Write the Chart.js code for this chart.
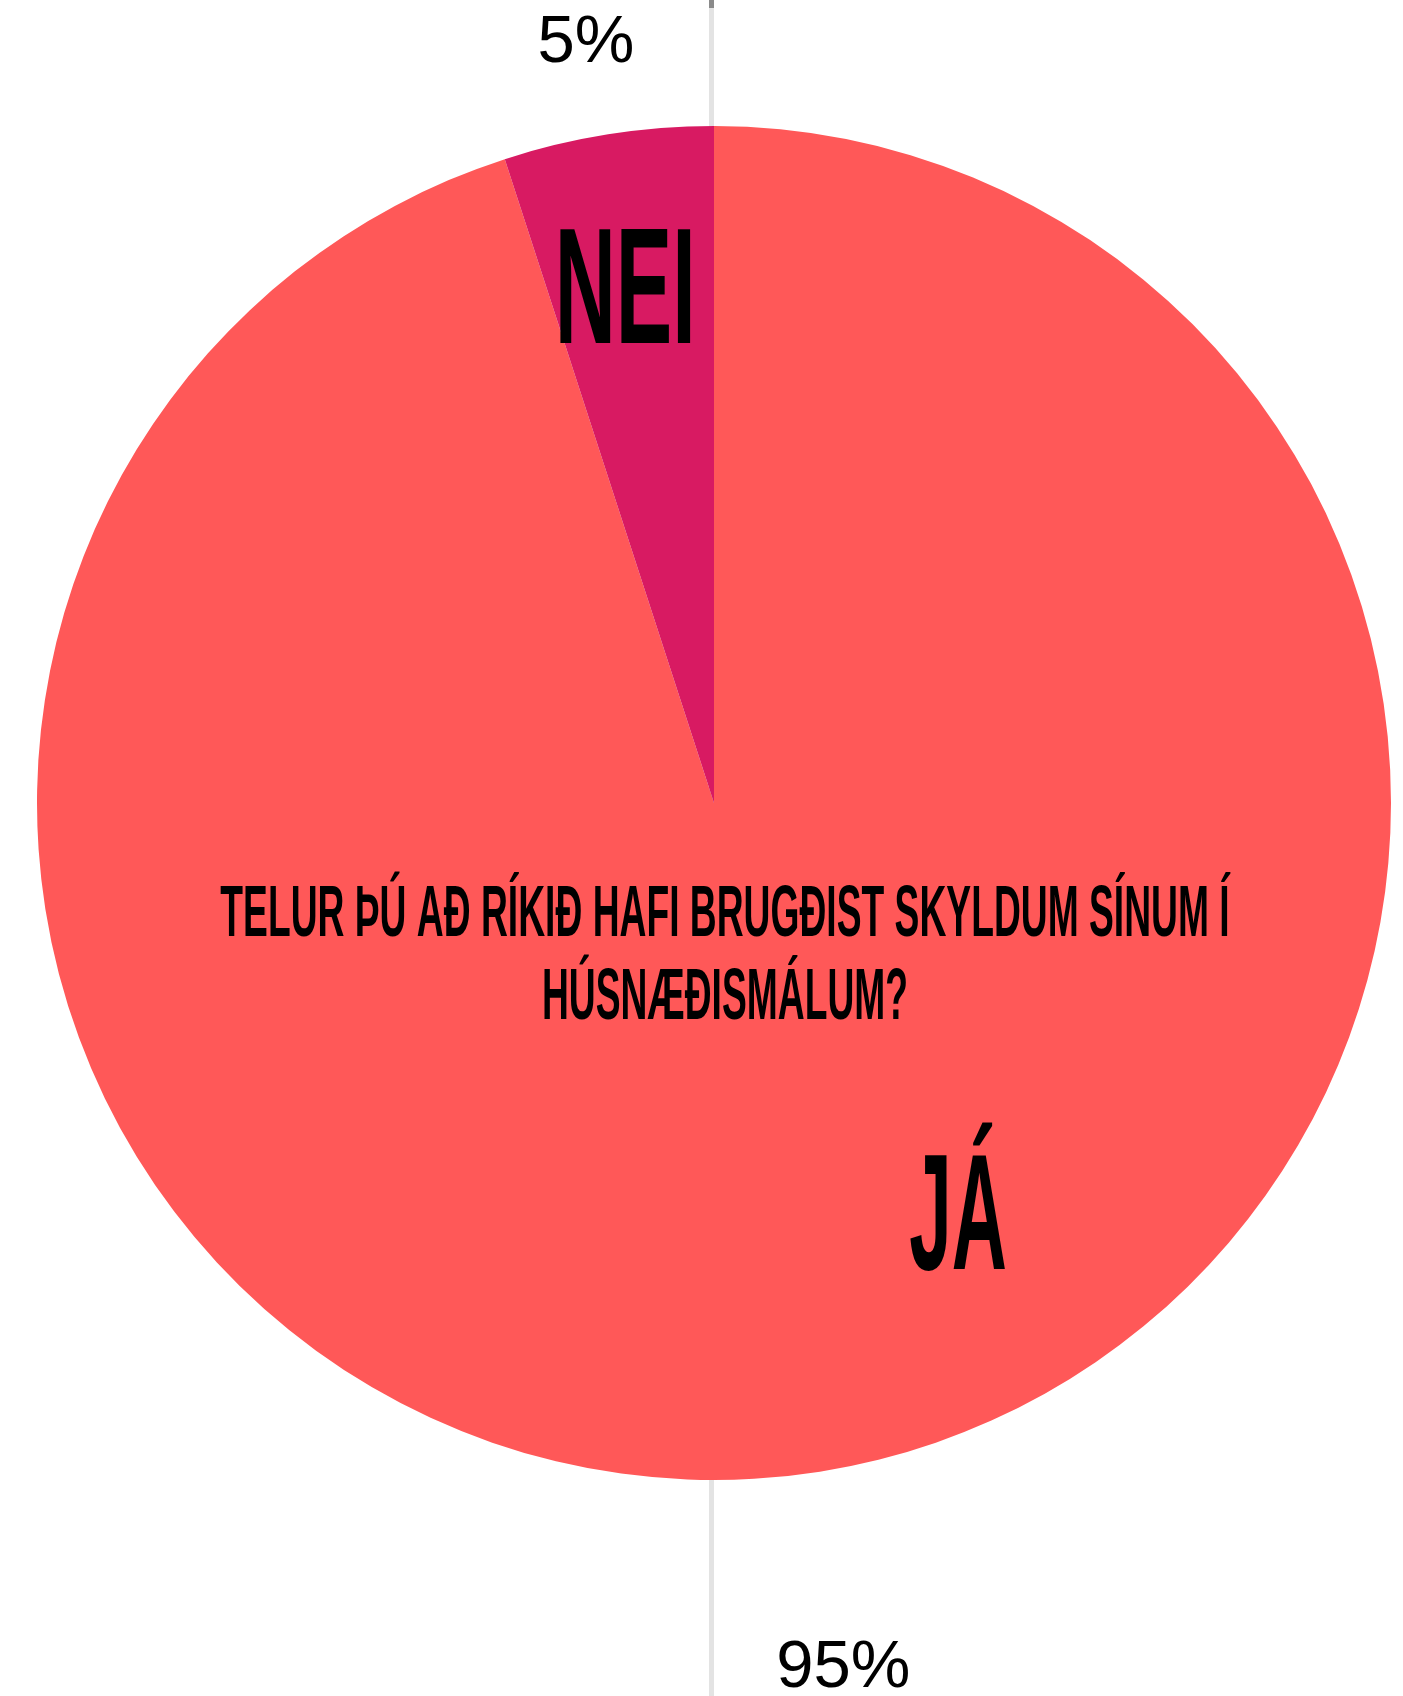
<!DOCTYPE html>
<html>
<head>
<meta charset="utf-8">
<script src="https://cdn.jsdelivr.net/npm/chart.js@4.4.1/dist/chart.umd.min.js"></script>
<style>
  html, body { margin: 0; padding: 0; background: #fff; }
  #wrap { width: 1403px; height: 1696px; position: relative; }
</style>
</head>
<body>
<div id="wrap"><canvas id="pie" width="1403" height="1696"></canvas></div>
<script>
// answers, in drawing order (clockwise from 12 o'clock)
const answers = ['JÁ', 'NEI'];
const shares = [95, 5];
const sliceColors = ['#FF5858', '#D81A62'];
const question = ['TELUR ÞÚ AÐ RÍKIÐ HAFI BRUGÐIST SKYLDUM SÍNUM Í', 'HÚSNÆÐISMÁLUM?'];

// where the big answer words sit: degrees clockwise from top, fraction of radius, squash
const wordSpots = [{ deg: 149, r: 0.70, sx: 0.46 }, { deg: 350.3, r: 0.778, sx: 0.51 }];
// how far out the percentage goes, as fraction of radius
const pctDistance = [1.286, 1.144];

const CAP = 0.716;

function squashed(ctx, text, x, capMid, size, sx) {
    ctx.save();
    ctx.translate(x, capMid + size * CAP / 2);
    ctx.scale(sx, 1);
    ctx.font = 'bold ' + size + 'px "Liberation Sans", Arial, sans-serif';
    ctx.textAlign = 'center';
    ctx.textBaseline = 'alphabetic';
    ctx.fillStyle = '#000';
    ctx.fillText(text, 0, 0);
    ctx.restore();
}

const backLine = {
    id: 'backLine',
    beforeDatasetsDraw(chart) {
        const arc = chart.getDatasetMeta(0).data[0];
        const ctx = chart.ctx;
        ctx.save();
        ctx.fillStyle = '#e3e3e3';
        ctx.fillRect(arc.x - 5, 0, 5, chart.height);
        ctx.fillStyle = '#8a8a8a';
        ctx.fillRect(arc.x - 5, 0, 5, 8);
        ctx.restore();
    }
};

const pieText = {
    id: 'pieText',
    afterDatasetsDraw(chart) {
        const ctx = chart.ctx;
        const arcs = chart.getDatasetMeta(0).data;
        const cx = arcs[0].x, cy = arcs[0].y, R = arcs[0].outerRadius;

        // percentages outside the pie, along each slice's middle
        ctx.save();
        ctx.font = '67px "Liberation Sans", Arial, sans-serif';
        ctx.fillStyle = '#000';
        ctx.textAlign = 'center';
        ctx.textBaseline = 'alphabetic';
        arcs.forEach((a, i) => {
            const mid = (a.startAngle + a.endAngle) / 2;
            const d = R * pctDistance[i];
            const x = cx + Math.cos(mid) * d - 7;
            const y = cy + Math.sin(mid) * d;
            ctx.fillText(shares[i] + '%', x, y + 67 * CAP / 2);
        });
        ctx.restore();

        // answer words inside the slices
        answers.forEach((word, i) => {
            const s = wordSpots[i];
            const t = s.deg * Math.PI / 180;
            const d = R * s.r;
            squashed(ctx, word, cx + Math.sin(t) * d, cy - Math.cos(t) * d, 166, s.sx);
        });

        // the question across the middle
        question.forEach((line, i) => {
            squashed(ctx, line, cx + 11, cy + 107 + i * 83, 73, 0.51);
        });
    }
};

const chart = new Chart(document.getElementById('pie').getContext('2d'), {
    type: 'pie',
    data: {
        labels: answers,
        datasets: [{
            data: shares,
            backgroundColor: sliceColors,
            borderWidth: 0
        }]
    },
    options: {
        responsive: false,
        animation: false,
        layout: { padding: { left: 37, right: 12, top: 126, bottom: 216 } },
        plugins: {
            legend: { display: false },
            tooltip: { enabled: false }
        }
    },
    plugins: [backLine, pieText]
});
</script>
</body>
</html>
